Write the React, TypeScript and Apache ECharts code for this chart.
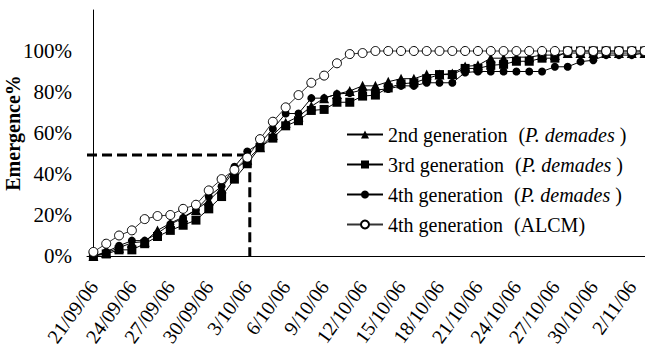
import React, { useEffect, useRef } from "react";
import * as echarts from "echarts";

const dates = [
  "21/09/06", "22/09/06", "23/09/06", "24/09/06", "25/09/06", "26/09/06", "27/09/06", "28/09/06", "29/09/06", "30/09/06",
  "1/10/06", "2/10/06", "3/10/06", "4/10/06", "5/10/06", "6/10/06", "7/10/06", "8/10/06", "9/10/06", "10/10/06",
  "11/10/06", "12/10/06", "13/10/06", "14/10/06", "15/10/06", "16/10/06", "17/10/06", "18/10/06", "19/10/06", "20/10/06",
  "21/10/06", "22/10/06", "23/10/06", "24/10/06", "25/10/06", "26/10/06", "27/10/06", "28/10/06", "29/10/06", "30/10/06",
  "31/10/06", "1/11/06", "2/11/06", "3/11/06",
];

const gen2 = [
  0, 1.5, 4, 6.5, 7, 12.5, 16, 19, 22.5, 27,
  33, 42, 47, 53, 59, 65, 68, 73, 77, 79,
  80.5, 83, 83, 85, 86.5, 86.5, 88.5, 88.5, 89, 92.5,
  93, 96.5, 96.5, 97, 97, 98, 98, 99, 99, 99,
  99, 99, 99, 99,
];
const gen3 = [
  0, 1, 3, 3, 6, 9.5, 12.5, 15, 17.5, 23,
  29, 37.5, 45, 53, 57.5, 63.5, 66, 71, 71.5, 75,
  75, 78, 78.5, 82, 84, 84.5, 86.5, 88.5, 88.5, 91.5,
  91.5, 93, 93.5, 95, 95, 96.5, 96.5, 100, 100, 100,
  100, 100, 100, 100,
];
const gen4 = [
  0, 2, 5, 7.5, 7.5, 11, 15.5, 18.5, 22.5, 29,
  34, 43.5, 51, 55, 62, 69.5, 69.5, 77, 77, 79,
  79.5, 81, 81, 81.5, 83, 83, 84.5, 84.5, 84.5, 89.5,
  90, 90, 90, 90, 90, 90, 92.3, 92.3, 94.8, 95.5,
  98, 98, 98, 99,
];
const alcm = [
  2, 6, 10, 12.5, 18, 19.5, 20, 23, 25, 32,
  37.5, 42, 48, 57, 65.5, 72.5, 78.5, 84.5, 88, 94,
  98.5, 99, 100, 100, 100, 100, 100, 100, 100, 100,
  100, 100, 100, 100, 100, 100, 100, 100, 100, 100,
  100, 100, 100, 100,
];

const seriesNames = [
  "2nd generation (P. demades)",
  "3rd generation (P. demades)",
  "4th generation (P. demades)",
  "4th generation (ALCM)",
];

// 50% emergence reference (x in category-index units)
const refX = [-0.5, 12.2, 12.2];
const refY = [49.3, 49.3, 0];

const FONT = "Liberation Serif";

export default function App() {
  const ref = useRef<HTMLDivElement>(null);
  useEffect(() => {
    if (!ref.current) return;
    const chart = echarts.init(ref.current, null, { renderer: "svg" });
    const mk = (name: string, data: number[], symbol: string, size: number, hollow = false) => ({
      name,
      type: "line",
      data,
      symbol,
      symbolSize: size,
      showAllSymbol: true,
      lineStyle: { color: hollow ? "#333" : "#000", width: 1 },
      itemStyle: hollow
        ? { color: "#fff", borderColor: "#000", borderWidth: 1 }
        : { color: "#000", borderColor: "#000", borderWidth: 0 },
      emphasis: { disabled: true },
    });
    chart.setOption({
      animation: false,
      grid: { left: 87, right: -6, top: 10, bottom: 91, containLabel: false, outerBoundsMode: "none" },
      xAxis: [
        {
          type: "category",
          data: dates,
          boundaryGap: true,
          axisLine: { lineStyle: { color: "#000", width: 1 } },
          axisTick: { interval: 2, length: 7, alignWithLabel: false, lineStyle: { color: "#000" } },
          axisLabel: {
            interval: 2,
            rotate: 54,
            margin: 27,
            color: "#000",
            fontSize: 20,
            fontFamily: FONT,
          },
          splitLine: { show: false },
        },
        { type: "value", min: -0.5, max: 43.5, show: false },
      ],
      yAxis: {
        type: "value",
        min: 0,
        max: 120,
        interval: 20,
        name: "Emergence%",
        nameLocation: "middle",
        nameGap: 64,
        nameMoveOverlap: false,
        nameTextStyle: { fontFamily: FONT, fontSize: 20, fontWeight: "bold", color: "#000" },
        axisLine: { show: true, lineStyle: { color: "#000", width: 1 } },
        axisTick: { show: false },
        splitLine: { show: false },
        axisLabel: {
          formatter: (v: number) => (v > 100 ? "" : v + "%"),
          color: "#000",
          fontSize: 21,
          fontFamily: FONT,
          margin: 15,
        },
      },
      legend: {
        data: seriesNames,
        orient: "vertical",
        left: 346,
        top: 124,
        padding: 0,
        itemWidth: 36,
        itemHeight: 10,
        itemGap: 9,
        textStyle: {
          fontFamily: FONT,
          fontSize: 20,
          color: "#000",
          lineHeight: 21,
          rich: {
            a: { fontFamily: FONT, fontSize: 20, color: "#000" },
            g: { width: 11 },
            b: { fontFamily: FONT, fontSize: 20, color: "#000" },
            i: { fontFamily: FONT, fontSize: 20, color: "#000", fontStyle: "italic" },
          },
        },
        formatter: (name: string) => {
          const k = name.indexOf(" (");
          const main = name.slice(0, k);
          const inner = name.slice(k + 2, name.length - 1);
          if (inner.startsWith("P.")) return `{a|${main}}{g| }{b|(}{i|${inner}}{b| )}`;
          return `{a|${main}}{g| }{b|(${inner})}`;
        },
      },
      series: [
        mk(seriesNames[0], gen2, "triangle", 10),
        mk(seriesNames[1], gen3, "rect", 9),
        mk(seriesNames[2], gen4, "circle", 8),
        mk(seriesNames[3], alcm, "circle", 9, true),
        {
          name: "ref",
          type: "line",
          xAxisIndex: 1,
          data: refX.map((x, i) => [x, refY[i]]),
          symbol: "none",
          lineStyle: { color: "#000", width: 3, type: [10, 5] },
          z: 1,
          emphasis: { disabled: true },
        },
      ],
    });
    return () => chart.dispose();
  }, []);
  return <div ref={ref} style={{ position: "absolute", left: 0, top: 0, width: 645, height: 347 }} />;
}
